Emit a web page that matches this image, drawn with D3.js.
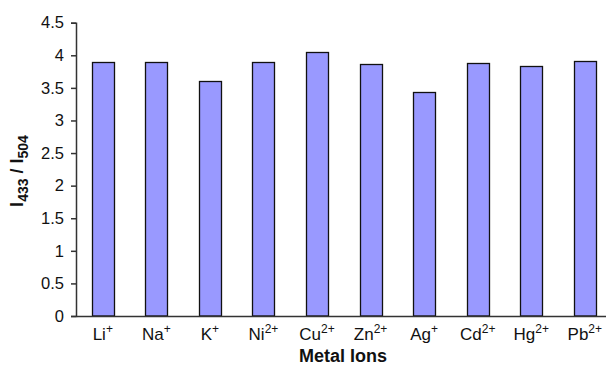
<!DOCTYPE html>
<html>
<head>
<meta charset="utf-8">
<script src="https://cdn.jsdelivr.net/npm/d3@7"></script>
<style>
  body { margin: 0; background: #fff; }
  text { font-family: "Liberation Sans", Arial, sans-serif; fill: #111; }
</style>
</head>
<body>
<div id="chart"></div>
<script>
// data
var ions      = ['Li', 'Na', 'K', 'Ni', 'Cu', 'Zn', 'Ag', 'Cd', 'Hg', 'Pb'];
var charges   = ['+', '+', '+', '2+', '2+', '2+', '+', '2+', '2+', '2+'];
var ratios    = [3.90, 3.90, 3.61, 3.90, 4.05, 3.86, 3.43, 3.88, 3.83, 3.92];
var yTicks    = [0, 0.5, 1, 1.5, 2, 2.5, 3, 3.5, 4, 4.5];

var width = 606, height = 369;
var plotLeft = 76, plotTop = 22.7, plotBottom = 316, bandW = 53.56;

var svg = d3.select('#chart').append('svg')
    .attr('width', width)
    .attr('height', height);

var x = d3.scaleBand()
    .domain(ions)
    .range([plotLeft, plotLeft + bandW * ions.length])
    .paddingInner(0.59)
    .paddingOuter(0.295);

var y = d3.scaleLinear()
    .domain([0, 4.5])
    .range([plotBottom, plotTop]);

// bars
svg.append('g')
    .selectAll('rect')
    .data(ions)
    .enter()
    .append('rect')
    .attr('x', function(d){ return Math.round(x(d)) + 0.5; })
    .attr('y', function(d, i){ return Math.round(y(ratios[i])) + 0.5; })
    .attr('width', Math.round(x.bandwidth()))
    .attr('height', function(d, i){ return plotBottom - Math.round(y(ratios[i])) - 0.5; })
    .attr('fill', '#9999ff')
    .attr('stroke', '#111')
    .attr('stroke-width', 1.3);

// y axis
var yAxis = d3.axisLeft(y).tickValues(yTicks).tickSize(5).tickPadding(7)
    .tickFormat(function(d){ return String(d); });
svg.append('g')
    .attr('transform', 'translate(' + plotLeft + ',0)')
    .call(yAxis)
    .call(function(g){ g.selectAll('.domain').attr('stroke', '#333').attr('stroke-width', 1.5); })
    .call(function(g){ g.selectAll('.tick line').attr('stroke', '#333').attr('stroke-width', 1.5); })
    .call(function(g){ g.selectAll('.tick text').attr('font-size', '16.5px')
        .attr('font-family', '"Liberation Sans", Arial, sans-serif').attr('fill', '#111'); });

// x axis line
var xAxis = d3.axisBottom(x).tickSize(0).tickFormat('');
var gx = svg.append('g')
    .attr('transform', 'translate(0,' + plotBottom + ')')
    .call(xAxis);
gx.select('.domain').attr('stroke', '#333').attr('stroke-width', 1.5);

// x tick labels with superscript charges
gx.selectAll('.tick').each(function(d, i){
    var t = d3.select(this).append('text')
        .attr('y', 24)
        .attr('text-anchor', 'middle')
        .attr('font-size', '17px')
        .attr('fill', '#111');
    t.append('tspan').text(d);
    t.append('tspan')
        .attr('dy', -7)
        .attr('font-size', '12px')
        .text(charges[i]);
});

// axis titles
svg.append('text')
    .attr('x', 343)
    .attr('y', 362)
    .attr('text-anchor', 'middle')
    .attr('font-size', '18px')
    .attr('font-weight', 'bold')
    .text('Metal Ions');

var yt = svg.append('text')
    .attr('transform', 'translate(23,' + 171 + ') rotate(-90)')
    .attr('text-anchor', 'middle')
    .attr('font-size', '18px')
    .attr('font-weight', 'bold');
yt.append('tspan').text('I');
yt.append('tspan').attr('dy', 5).attr('font-size', '14px').text('433');
yt.append('tspan').attr('dy', -5).text(' / I');
yt.append('tspan').attr('dy', 5).attr('font-size', '14px').text('504');
</script>
</body>
</html>
